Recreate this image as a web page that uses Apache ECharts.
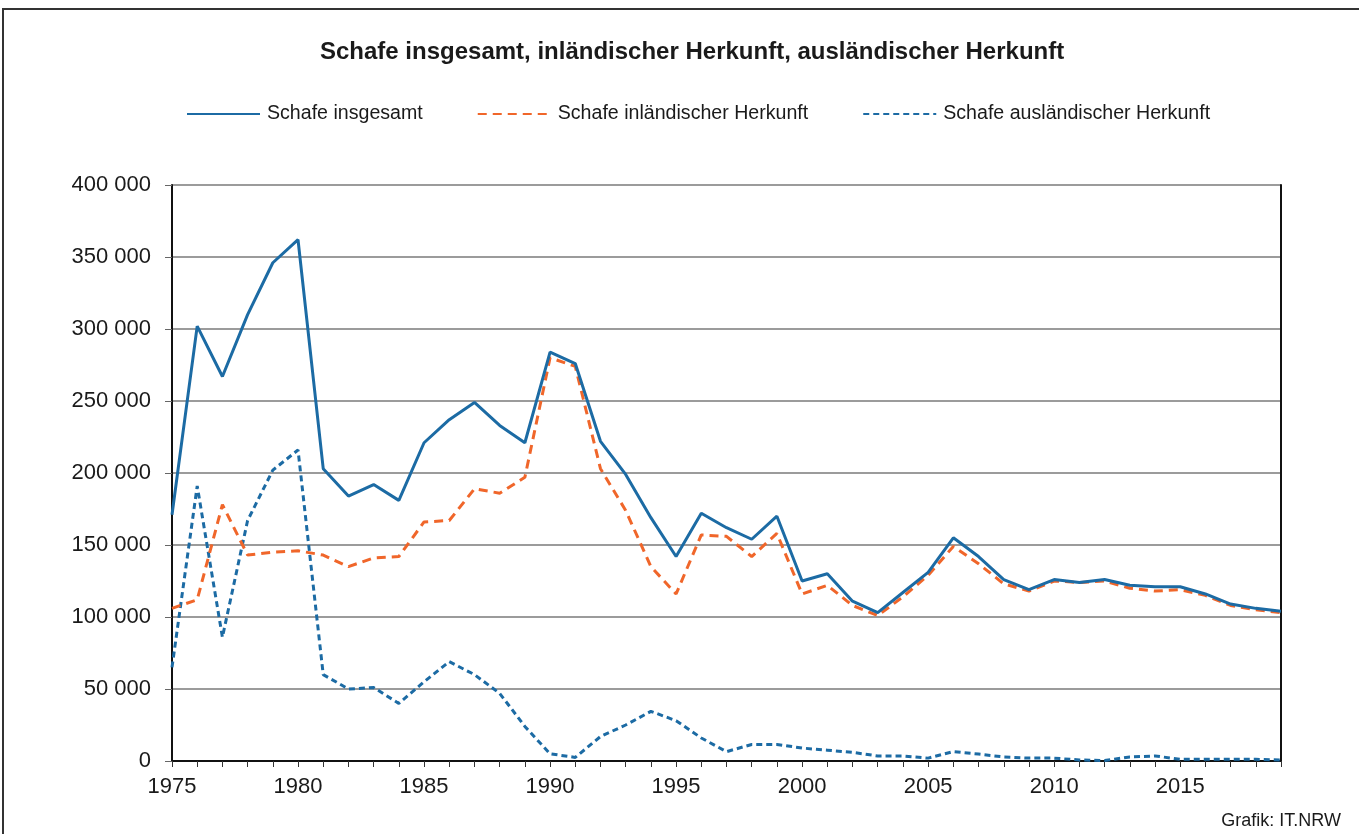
<!DOCTYPE html>
<html>
<head>
<meta charset="utf-8">
<title>Schafe</title>
<script src="https://cdn.jsdelivr.net/npm/echarts@6/dist/echarts.min.js"></script>
<style>
  * { margin: 0; padding: 0 }
  html, body { width: 100%; height: 100%; background: #fff; }
  #main { width: 1359px; height: 834px; }
</style>
</head>
<body>
<div id="main"></div>
<script type="text/javascript">
var years = [];
for (var y = 1975; y <= 2019; y++) years.push(String(y));

var insgesamt = [171000, 302000, 267000, 310000, 346000, 362000, 203000, 184000, 192000, 181000,
  221000, 237000, 249000, 233000, 221000, 284000, 276000, 222000, 199000, 169000,
  142000, 172000, 162000, 154000, 170000, 125000, 130000, 111000, 103000, 117000,
  131000, 155000, 142000, 126000, 119000, 126000, 124000, 126000, 122000, 121000,
  121000, 116000, 109000, 106000, 104000];

var inlaendisch = [106000, 112000, 178000, 143000, 145000, 146000, 143000, 135000, 141000, 142000,
  166000, 167000, 189000, 186000, 197000, 280000, 274000, 203000, 174000, 135000,
  116000, 157000, 156000, 142000, 158000, 116000, 122000, 108000, 101000, 114000,
  129000, 149000, 137000, 123000, 118000, 125000, 124000, 125000, 120000, 118000,
  119000, 115000, 108000, 105000, 103000];

var auslaendisch = [65000, 191000, 86000, 167000, 202000, 216000, 60000, 50000, 51000, 40000,
  55000, 69000, 60000, 47000, 24000, 5000, 2500, 17000, 25000, 34500,
  28000, 16000, 6500, 11500, 11500, 9000, 7500, 6000, 3500, 3500,
  2000, 6500, 4800, 2800, 2000, 2000, 700, 300, 2800, 3500,
  1200, 1200, 1200, 1200, 700];

var blau = '#1c6ba4';
var orange = '#f0662a';
var schrift = 'Liberation Sans, Arial, sans-serif';

var chart = echarts.init(document.getElementById('main'));
chart.setOption({
  animation: false,
  textStyle: { fontFamily: schrift },
  title: [{
    text: 'Schafe insgesamt, inländischer Herkunft, ausländischer Herkunft',
    left: 315,
    top: 35,
    textStyle: { fontSize: 24, fontWeight: 'bold', color: '#1a1a1a', fontFamily: schrift }
  }, {
    text: 'Grafik: IT.NRW',
    right: 13,
    top: 807,
    textStyle: { fontSize: 18, fontWeight: 'normal', color: '#1a1a1a', fontFamily: schrift }
  }],
  graphic: [{
    type: 'rect',
    shape: { x: 3, y: 9, width: 1400, height: 900 },
    style: { fill: 'none', stroke: '#333', lineWidth: 2 },
    silent: true
  }],
  legend: {
    left: 181,
    top: 99,
    itemWidth: 73,
    itemHeight: 3,
    itemGap: 54,
    itemStyle: { opacity: 0 },
    textStyle: { fontSize: 19.6, color: '#1a1a1a', fontFamily: schrift, padding: [0, 0, 0, 2] },
    data: ['Schafe insgesamt', 'Schafe inländischer Herkunft', 'Schafe ausländischer Herkunft']
  },
  grid: { left: 172, right: 78, top: 185, bottom: 73, containLabel: false },
  xAxis: {
    type: 'category',
    data: years,
    boundaryGap: false,
    axisLine: { lineStyle: { color: '#111', width: 2 } },
    axisTick: { interval: 0, length: 6, lineStyle: { color: '#333' } },
    axisLabel: {
      interval: 4,
      margin: 15,
      fontSize: 22,
      color: '#1a1a1a',
      fontFamily: schrift
    },
    splitLine: { show: false }
  },
  yAxis: [{
    type: 'value',
    min: 0,
    max: 400000,
    interval: 50000,
    axisLine: { show: true, lineStyle: { color: '#111', width: 2 } },
    axisTick: { show: true, length: 7, lineStyle: { color: '#666' } },
    axisLabel: {
      margin: 21,
      fontSize: 22,
      color: '#1a1a1a',
      fontFamily: schrift,
      padding: [3, 0, 0, 0],
      formatter: function (v) {
        return String(v).replace(/\B(?=(\d{3})+(?!\d))/g, ' ');
      }
    },
    splitLine: { lineStyle: { color: '#7a7a7a', width: 1.5 } }
  }, {
    type: 'value',
    position: 'right',
    min: 0,
    max: 400000,
    interval: 50000,
    axisLine: { show: true, lineStyle: { color: '#111', width: 2 } },
    axisTick: { show: false },
    axisLabel: { show: false },
    splitLine: { show: false }
  }],
  series: [{
    name: 'Schafe insgesamt',
    type: 'line',
    data: insgesamt,
    symbol: 'none',
    z: 5,
    itemStyle: { color: blau },
    lineStyle: { color: blau, width: 3 }
  }, {
    name: 'Schafe inländischer Herkunft',
    type: 'line',
    data: inlaendisch,
    symbol: 'none',
    z: 4,
    itemStyle: { color: orange },
    lineStyle: { color: orange, width: 3, type: [9, 6] }
  }, {
    name: 'Schafe ausländischer Herkunft',
    type: 'line',
    data: auslaendisch,
    symbol: 'none',
    z: 3,
    itemStyle: { color: blau },
    lineStyle: { color: blau, width: 3, type: [6, 4] }
  }]
});
</script>
</body>
</html>
